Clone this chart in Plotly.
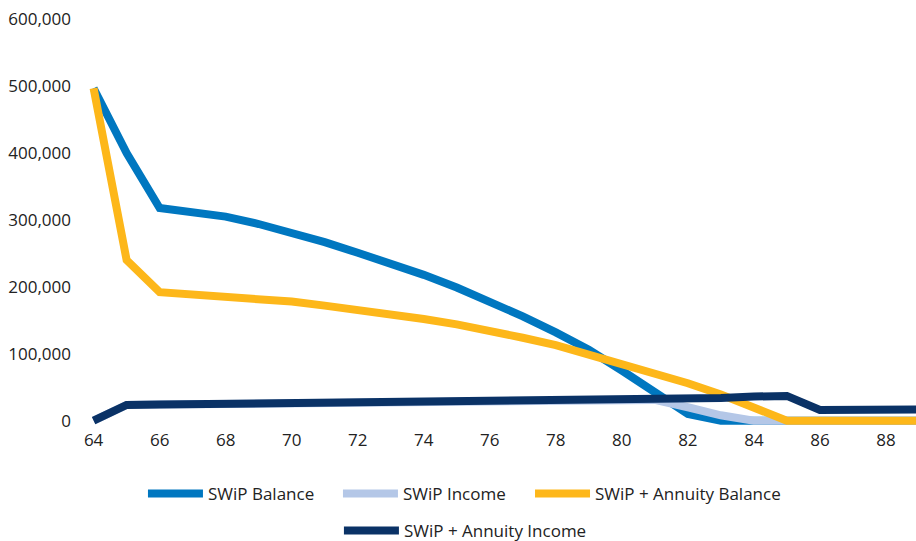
import plotly.graph_objects as go

ages = list(range(64, 91))

swip_balance = [497000, 400000, 318000, 312000, 305000, 294000, 281000, 267000, 251000,
                235000, 218000, 199000, 178000, 156000, 132000, 106000, 75000, 43000,
                10000, 0, 0, 0, 0, 0, 0, 0, 0]

swip_income = [0, 23500, 24000, 24500, 24500, 25000, 25000, 25500, 26000, 26500, 27000,
               27500, 28000, 28500, 29000, 29500, 30000, 31000, 20000, 8000, 0, 0, 0, 0,
               0, 0, 0]

annuity_balance = [497000, 240000, 192000, 189000, 186000, 182000, 178000, 172000, 166000,
                   159000, 152000, 144000, 135000, 124000, 113000, 99000, 83000, 70000,
                   56000, 39000, 20000, 0, 0, 0, 0, 0, 0]

annuity_income = [0, 23500, 24000, 24500, 24500, 25000, 25000, 25500, 26000, 26500, 27000,
                  27500, 28000, 28500, 29000, 29500, 30000, 31000, 32000, 34000, 36000,
                  37000, 16000, 16000, 16000, 17000, 17000]

series_names = ["SWiP Balance", "SWiP Income", "SWiP + Annuity Balance", "SWiP + Annuity Income"]
series_values = [swip_balance, swip_income, annuity_balance, annuity_income]
colors = ["#0077C0", "#B4C7E7", "#FDB71A", "#0A3266"]
legend_ids = ["legend", "legend", "legend3", "legend2"]

x_ticks = list(range(64, 89, 2))
y_ticks = [0, 100000, 200000, 300000, 400000, 500000, 600000]

FONT = "Open Sans"
TXT = "#222222"
FS = 17

fig = go.Figure()
for name, vals, col, lg in zip(series_names, series_values, colors, legend_ids):
    fig.add_trace(go.Scatter(
        x=ages, y=vals, name=name, mode="lines",
        line=dict(color=col, width=8),
        legend=lg,
    ))

legend_common = dict(
    orientation="h", xanchor="left", yanchor="middle",
    font=dict(family=FONT, size=FS, color=TXT),
    bgcolor="rgba(0,0,0,0)", itemwidth=55, traceorder="normal",
)

fig.update_layout(
    width=916, height=541,
    margin=dict(l=87, r=0, t=16, b=115, autoexpand=False),
    paper_bgcolor="white", plot_bgcolor="white",
    font=dict(family=FONT, size=FS, color=TXT),
    showlegend=True,
    legend=dict(**legend_common, x=0.0675, y=-0.166, entrywidth=125),
    legend3=dict(**legend_common, x=0.5344, y=-0.166),
    legend2=dict(**legend_common, x=0.3039, y=-0.256),
    xaxis=dict(
        range=[63.8, 88.91], tickvals=x_ticks, showgrid=False, zeroline=False,
        showline=False, ticks="", automargin=False, ticklabelstandoff=2,
        tickfont=dict(family=FONT, size=FS, color=TXT),
    ),
    yaxis=dict(
        range=[-8000, 605000], tickvals=y_ticks, tickformat=",", showgrid=False,
        zeroline=False, showline=False, ticks="", ticklabelstandoff=15, automargin=False,
        tickfont=dict(family=FONT, size=FS, color=TXT),
    ),
)

fig.write_html(
    "out.html",
    config={"displayModeBar": False},
    post_script="document.body.style.margin='0';document.body.style.overflow='hidden';",
)
